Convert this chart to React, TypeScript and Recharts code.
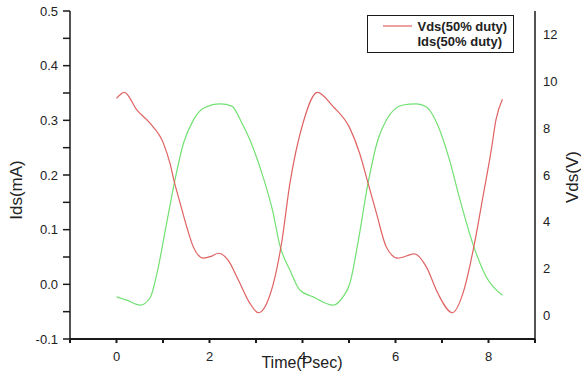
import { LineChart, Line, XAxis, YAxis } from 'recharts'

// Vds (red, right axis, V)
const vdsTime = [0, 0.17, 0.44, 0.72, 1.01, 1.15, 1.25, 1.37, 1.51, 1.65, 1.87, 2.05, 2.19, 2.4, 2.62, 2.87, 3.05, 3.23, 3.41, 3.55, 3.73, 4.01, 4.32, 4.66, 5.02, 5.23, 5.41, 5.59, 5.8, 6.05, 6.41, 6.66, 6.91, 7.22, 7.45, 7.7, 7.88, 8.06, 8.16, 8.3]
const vdsVolts = [9.27, 9.53, 8.77, 8.21, 7.35, 6.5, 5.65, 4.79, 3.79, 2.94, 2.45, 2.54, 2.66, 2.37, 1.52, 0.52, 0.12, 0.52, 1.66, 3.09, 5.65, 8.21, 9.53, 8.92, 7.99, 6.92, 5.65, 4.37, 2.94, 2.45, 2.63, 2.09, 0.95, 0.12, 0.95, 3.09, 5.07, 7.07, 8.35, 9.23]

// Ids (green, left axis, mA)
const idsTime = [0, 0.22, 0.51, 0.72, 0.87, 1.05, 1.25, 1.44, 1.65, 1.87, 2.23, 2.48, 2.68, 2.87, 3.15, 3.37, 3.51, 3.73, 3.94, 4.23, 4.66, 4.87, 5.02, 5.19, 5.41, 5.62, 5.8, 6.16, 6.45, 6.66, 6.9, 7.16, 7.37, 7.66, 7.95, 8.3]
const idsCurrent = [-0.023, -0.029, -0.038, -0.025, 0.02, 0.099, 0.188, 0.258, 0.3, 0.322, 0.33, 0.326, 0.298, 0.264, 0.197, 0.13, 0.072, 0.026, -0.01, -0.023, -0.038, -0.023, 0.002, 0.075, 0.185, 0.264, 0.3, 0.328, 0.33, 0.325, 0.293, 0.228, 0.16, 0.075, 0.014, -0.02]

const xTicks = [-1, 0, 1, 2, 3, 4, 5, 6, 7, 8, 9]
const leftTicks = [-0.1, -0.05, 0, 0.05, 0.1, 0.15, 0.2, 0.25, 0.3, 0.35, 0.4, 0.45, 0.5]
const rightTicks = [0, 2, 4, 6, 8, 10, 12]

const legendItems = [
  { name: 'Vds(50% duty)', color: '#e06262' },
  { name: 'Ids(50% duty)', color: '#ffffff' },
]

const vdsPoints = vdsTime.map((t, i) => ({ t, v: vdsVolts[i] }))
const idsPoints = idsTime.map((t, i) => ({ t, v: idsCurrent[i] }))

const FONT = '"Liberation Sans", Arial, sans-serif'
const AXIS = '#1a1a1a'
const tickStyle = { fill: '#222', fontSize: 13, fontFamily: FONT }

export default function App() {
  return (
    <div style={{ position: 'absolute', left: 0, top: 0, width: 581, height: 374, background: '#fff' }}>
      <LineChart width={581} height={374} margin={{ top: 11, right: 0, bottom: 0, left: 0 }}>
        <XAxis
          type="number"
          dataKey="t"
          domain={[-1, 9]}
          ticks={xTicks}
          allowDataOverflow
          height={35}
          stroke={AXIS}
          strokeWidth={2}
          tickSize={4}
          tickMargin={9}
          tick={tickStyle}
          tickFormatter={(v: number) => (v >= 0 && v % 2 === 0 ? String(v) : '')}
        />
        <YAxis
          yAxisId="left"
          orientation="left"
          domain={[-0.1, 0.5]}
          ticks={leftTicks}
          allowDataOverflow
          width={70}
          stroke={AXIS}
          strokeWidth={1.5}
          tickSize={7}
          tickMargin={5}
          tick={tickStyle}
          tickFormatter={(v: number) => (Math.round(v * 100) % 10 === 0 ? v.toFixed(1) : '')}
        />
        <YAxis
          yAxisId="right"
          orientation="right"
          domain={[-1, 13]}
          ticks={rightTicks}
          allowDataOverflow
          width={46}
          stroke={AXIS}
          strokeWidth={1.5}
          tickLine={false}
          tickSize={0}
          tickMargin={8}
          tick={{ ...tickStyle, textAnchor: 'start' }}
        />
        <Line data={idsPoints} dataKey="v" yAxisId="left" type="monotone" stroke="#72e072" strokeWidth={1.2} dot={false} isAnimationActive={false} />
        <Line data={vdsPoints} dataKey="v" yAxisId="right" type="monotone" stroke="#e06262" strokeWidth={1.2} dot={false} isAnimationActive={false} />
      </LineChart>

      {/* titres d'axes + légende */}
      <svg width={581} height={374} style={{ position: 'absolute', left: 0, top: 0, pointerEvents: 'none' }} fontFamily={FONT}>
        <text x={16} y={190} transform="rotate(-90 16 190)" textAnchor="middle" dominantBaseline="central" fontSize={17} fill="#222">Ids(mA)</text>
        <text x={572} y={177} transform="rotate(-90 572 177)" textAnchor="middle" dominantBaseline="central" fontSize={17} fill="#222">Vds(V)</text>
        <text x={302} y={362} textAnchor="middle" dominantBaseline="central" fontSize={16} fill="#222">Time(Psec)</text>

        <rect x={367.5} y={15.5} width={146} height={37} fill="#fff" stroke={AXIS} strokeWidth={1} />
        {legendItems.map((item, i) => (
          <g key={item.name}>
            <line x1={383} x2={412} y1={26 + i * 15.7} y2={26 + i * 15.7} stroke={item.color} strokeWidth={1.2} />
            <text x={417.5} y={26 + i * 15.7} dominantBaseline="central" fontSize={13} fontWeight="bold" fill="#222">{item.name}</text>
          </g>
        ))}
      </svg>
    </div>
  )
}
